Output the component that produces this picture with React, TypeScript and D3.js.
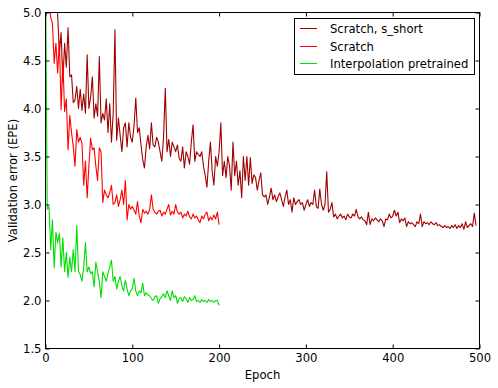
import React, { useRef, useEffect } from 'react';
import * as d3 from 'd3';

// values sampled every 2 epochs
const EPOCH_STEP = 2;

const scratchShort = [
  5.8, 5.6, 5.5, 5.4, 5.3, 5.2, 5.1, 4.98, 4.58, 4.79,
  4.27, 4.68, 4.43, 4.84, 4.33, 4.35, 4.06, 4.09, 4.23, 4.0,
  4.2, 3.98, 4.15, 3.95, 4.56, 4.0, 4.12, 4.33, 3.9, 4.05,
  3.92, 4.54, 3.85, 3.95, 3.88, 4.1, 3.75, 4.05, 3.65, 3.95,
  4.82, 3.67, 3.9, 3.72, 3.55, 3.8, 3.85, 3.6, 3.85, 3.7,
  3.65, 3.82, 4.11, 3.75, 3.8, 3.62, 3.47, 3.38, 3.6, 3.72,
  3.58, 3.85, 3.62, 3.6, 3.7, 3.65, 3.55, 3.45, 3.7, 4.21,
  3.55, 3.68, 3.5, 3.65, 3.6, 3.55, 3.62, 3.48, 3.45, 3.6,
  3.38, 3.55, 3.5, 3.42, 3.65, 3.83, 3.45, 3.55, 3.52, 3.5,
  3.55, 3.4, 3.3, 3.18, 3.45, 3.65, 3.35, 3.2, 3.5, 3.4,
  3.55, 3.85, 3.3, 3.45, 3.28, 3.5, 3.4, 3.15, 3.65, 3.3,
  3.45, 3.2, 3.35, 3.07, 3.5, 3.25, 3.5, 3.2, 3.49, 3.22,
  3.31, 3.28, 3.15, 3.25, 3.33, 3.1, 3.08, 3.1, 3.0, 3.08,
  3.17, 3.05, 3.1, 3.03, 3.08, 3.12, 3.05, 2.98, 3.08, 3.15,
  3.0, 3.05, 2.92, 3.07, 3.0, 3.03, 3.05, 3.0, 3.02, 2.94,
  3.0, 3.05, 2.98, 3.02, 3.0, 3.15, 2.98, 2.96, 3.16, 3.0,
  2.94, 3.0, 3.34, 2.92, 2.95, 3.02, 2.87, 2.9, 2.85, 2.88,
  2.9, 2.86, 2.88, 2.84, 2.9, 2.87, 2.86, 2.9, 2.88, 2.95,
  2.87, 2.85, 2.87, 2.84, 2.83, 2.79, 2.92, 2.79, 2.85, 2.83,
  2.86, 2.84, 2.82, 2.85, 2.83, 2.77, 2.85, 2.84, 2.9, 2.86,
  2.88, 2.94, 2.88, 2.92, 2.81, 2.85, 2.83, 2.86, 2.77, 2.82,
  2.8, 2.81, 2.79, 2.77, 2.82, 2.8, 2.9, 2.77, 2.82, 2.8,
  2.81, 2.79, 2.82, 2.8, 2.79, 2.81, 2.78, 2.79, 2.77, 2.76,
  2.78, 2.76, 2.77, 2.75, 2.78, 2.76, 2.79, 2.75, 2.78, 2.76,
  2.8, 2.74, 2.82, 2.76, 2.78, 2.8, 2.77, 2.91, 2.78
];

const scratch = [
  5.9, 5.6, 5.2, 4.95, 4.89, 4.47, 4.68, 4.37, 4.7, 3.99,
  4.5, 3.97, 4.1, 3.57, 3.93, 3.75, 3.6, 3.4, 3.78, 3.65,
  3.7, 3.64, 3.2, 3.45, 3.07, 3.4, 3.69, 3.57, 3.59, 3.4,
  3.25, 3.59, 3.55, 3.02, 3.15, 3.1, 3.07, 3.12, 3.2, 3.0,
  3.02, 3.1, 2.98, 3.05, 3.15, 3.0, 3.25, 2.84, 3.0, 2.95,
  2.98, 2.94, 2.9, 3.03, 2.88, 2.81, 2.95, 2.91, 2.93, 2.9,
  2.95, 3.1, 2.95, 2.92, 2.9, 2.93, 2.94, 2.88, 2.92, 2.9,
  2.95, 3.0, 2.89, 2.93, 2.9, 3.0, 2.92, 2.9, 2.92, 2.86,
  2.9, 2.88, 2.93, 2.87, 2.85, 2.9, 2.86, 2.88, 2.84, 2.81,
  2.88, 2.85, 2.9, 2.92, 2.83, 2.87, 2.84, 2.89, 2.85, 2.92,
  2.79
];

const interpPretrained = [
  5.5, 2.95, 2.98, 2.53, 2.84, 2.34, 2.71, 2.6, 2.7, 2.35,
  2.65, 2.3, 2.5, 2.24, 2.45, 2.3, 2.53, 2.3, 2.78, 2.3,
  2.27, 2.2, 2.35, 2.6, 2.3, 2.35, 2.28, 2.3, 2.14, 2.4,
  2.3, 2.2, 2.03, 2.3, 2.25, 2.2, 2.28, 2.35, 2.42, 2.2,
  2.25, 2.12, 2.2, 2.25, 2.15, 2.1, 2.21, 2.12, 2.05, 2.1,
  2.12, 2.23, 2.1, 2.05, 2.1, 2.08, 2.18, 2.05, 2.08, 2.06,
  2.05, 2.02, 2.0, 2.04, 2.05, 1.97, 2.02, 2.04, 2.07, 2.03,
  2.1, 2.05, 2.0, 2.1, 2.03, 2.05, 1.97, 2.02, 2.03, 1.99,
  2.04, 2.02, 1.98, 2.03, 2.0, 2.01, 2.05, 1.99, 2.0, 1.98,
  2.01, 1.99, 2.0, 1.98, 2.01, 1.99, 2.0, 1.98, 2.0, 2.0,
  1.95
];

const seriesNames = ["Scratch, s_short", "Scratch", "Interpolation pretrained"];
const seriesColors = ["#a00000", "#ff0000", "#00dd00"];
const xTicks = [0, 100, 200, 300, 400, 500];
const yTicks = [1.5, 2.0, 2.5, 3.0, 3.5, 4.0, 4.5, 5.0];

const FONT = "DejaVu Sans, sans-serif";

export default function App() {
  const ref = useRef(null);
  const width = 498;
  const height = 388;

  useEffect(() => {
    const svg = d3.select(ref.current);
    svg.selectAll("*").remove();

    const left = 45.5, right = 479.5, top = 12.5, bottom = 348.5;
    const x = d3.scaleLinear().domain([0, 500]).range([left, right]);
    const y = d3.scaleLinear().domain([1.5, 5.0]).range([bottom, top]);

    svg.append("rect").attr("width", width).attr("height", height).attr("fill", "white");

    svg.append("clipPath").attr("id", "plotclip")
      .append("rect")
      .attr("x", left).attr("y", top)
      .attr("width", right - left).attr("height", bottom - top);

    const line = d3.line()
      .x((d, i) => x(i * EPOCH_STEP))
      .y(d => y(d));

    const plot = svg.append("g").attr("clip-path", "url(#plotclip)");
    [scratchShort, scratch, interpPretrained].forEach((vals, k) => {
      plot.append("path")
        .datum(vals)
        .attr("fill", "none")
        .attr("stroke", seriesColors[k])
        .attr("stroke-width", 1.1)
        .attr("stroke-linejoin", "round")
        .attr("d", line);
    });

    // axes with inward ticks on all four sides
    const styleAxis = g => {
      g.select(".domain").remove();
      g.selectAll(".tick line").attr("stroke", "black").attr("stroke-width", 1);
      g.selectAll("text").attr("font-family", FONT).attr("font-size", "11.6px").attr("fill", "black");
    };

    svg.append("g")
      .attr("transform", `translate(0,${bottom})`)
      .call(d3.axisBottom(x).tickValues(xTicks).tickSize(-4).tickPadding(5).tickFormat(d3.format("d")))
      .call(styleAxis);

    svg.append("g")
      .attr("transform", `translate(0,${top})`)
      .call(d3.axisTop(x).tickValues(xTicks).tickSize(-4).tickFormat(() => ""))
      .call(styleAxis);

    svg.append("g")
      .attr("transform", `translate(${left},0)`)
      .call(d3.axisLeft(y).tickValues(yTicks).tickSize(-4).tickPadding(4).tickFormat(d3.format(".1f")))
      .call(styleAxis);

    svg.append("g")
      .attr("transform", `translate(${right},0)`)
      .call(d3.axisRight(y).tickValues(yTicks).tickSize(-4).tickFormat(() => ""))
      .call(styleAxis);

    svg.append("rect")
      .attr("x", left).attr("y", top)
      .attr("width", right - left).attr("height", bottom - top)
      .attr("fill", "none").attr("stroke", "black").attr("stroke-width", 1);

    svg.append("text")
      .attr("x", (left + right) / 2).attr("y", 379)
      .attr("text-anchor", "middle")
      .attr("font-family", FONT).attr("font-size", "11.6px")
      .text("Epoch");

    svg.append("text")
      .attr("transform", `translate(17,${(top + bottom) / 2}) rotate(-90)`)
      .attr("text-anchor", "middle")
      .attr("font-family", FONT).attr("font-size", "11.6px")
      .text("Validation error (EPE)");

    // legend
    const lg = svg.append("g");
    lg.append("rect")
      .attr("x", 294.5).attr("y", 18.5)
      .attr("width", 180).attr("height", 56)
      .attr("fill", "white").attr("stroke", "black").attr("stroke-width", 1);
    seriesNames.forEach((name, k) => {
      const cy = Math.round(28 + k * 17.6) + 0.5;
      lg.append("line")
        .attr("x1", 300).attr("x2", 317)
        .attr("y1", cy).attr("y2", cy)
        .attr("stroke", seriesColors[k]).attr("stroke-width", 1);
      lg.append("text")
        .attr("x", 330).attr("y", cy)
        .attr("dy", "0.35em")
        .attr("font-family", FONT).attr("font-size", "11.6px")
        .text(name);
    });
  }, []);

  return (
    <svg ref={ref} width={width} height={height}
      style={{ position: "absolute", left: 0, top: 0 }} />
  );
}
